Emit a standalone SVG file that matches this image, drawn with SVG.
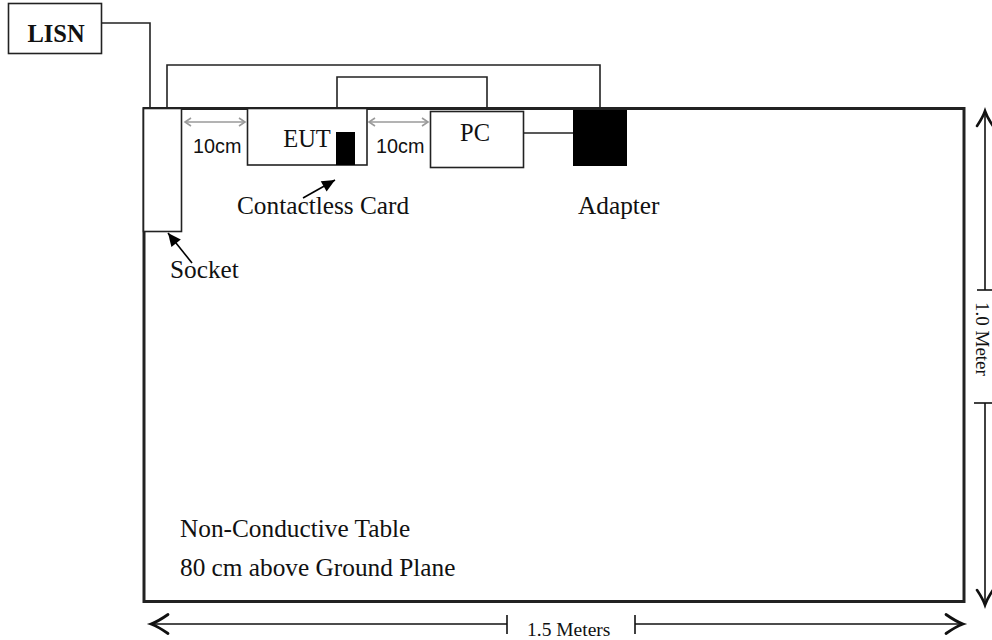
<svg xmlns="http://www.w3.org/2000/svg" width="992" height="640" viewBox="0 0 992 640">
<defs>
<marker id="chev" markerUnits="userSpaceOnUse" markerWidth="24" markerHeight="24" viewBox="-20 -12 24 24" refX="0" refY="0" orient="auto-start-reverse" overflow="visible">
<path d="M-17,-9.5 Q-7,-2.5 0,0 Q-7,2.5 -17,9.5" fill="none" stroke="#111" stroke-width="2.8" stroke-linecap="round"/>
</marker>
<marker id="chevs" markerUnits="userSpaceOnUse" markerWidth="24" markerHeight="24" viewBox="-20 -12 24 24" refX="0" refY="0" orient="auto-start-reverse" overflow="visible">
<path d="M-15,-8 Q-6,-2 0,0 Q-6,2 -15,8" fill="none" stroke="#111" stroke-width="2.6" stroke-linecap="round"/>
</marker>
<marker id="gray" markerUnits="userSpaceOnUse" markerWidth="12" markerHeight="12" viewBox="-8 -6 10 12" refX="0" refY="0" orient="auto-start-reverse" overflow="visible">
<path d="M-6,-4 L0,0 L-6,4" fill="none" stroke="#9a9a9a" stroke-width="1.6"/>
</marker>
<marker id="fill" markerUnits="userSpaceOnUse" markerWidth="16" markerHeight="16" viewBox="-14 -8 16 16" refX="0" refY="0" orient="auto" overflow="visible">
<path d="M0,0 L-13,-6 L-13,6 Z" fill="#000"/>
</marker>
</defs>
<style>
.box{fill:#fff;stroke:#222;stroke-width:1.6}
.wire{fill:none;stroke:#222;stroke-width:1.6}
.ser{font-family:"Liberation Serif","Times New Roman",serif;font-size:24.5px;fill:#111}
.lbl{font-size:25.3px}
.san{font-family:"Liberation Sans",Arial,sans-serif;font-size:19.8px;fill:#111}
.dim{font-family:"Liberation Serif","Times New Roman",serif;font-size:19.5px;fill:#111}
</style>
<g id="table">
<rect x="144" y="108.5" width="820" height="493" fill="#fff" stroke="#222" stroke-width="3"/>
<text class="ser lbl" x="180" y="537">Non-Conductive Table</text>
<text class="ser lbl" x="180" y="576">80 cm above Ground Plane</text>
</g>
<g id="connectors">
<path class="wire" d="M102,23 H150 V108"/>
<path class="wire" d="M167,108 V65 H600 V110"/>
<path class="wire" d="M337,108 V77 H487 V110"/>
<path class="wire" d="M523,133 H573"/>
<path d="M185,122 H245" fill="none" stroke="#9a9a9a" stroke-width="1.6" marker-start="url(#gray)" marker-end="url(#gray)"/>
<path d="M369,122 H428" fill="none" stroke="#9a9a9a" stroke-width="1.6" marker-start="url(#gray)" marker-end="url(#gray)"/>
<path d="M303,198 L335,180" fill="none" stroke="#000" stroke-width="1.6" marker-end="url(#fill)"/>
<path d="M192,263 L168,233" fill="none" stroke="#000" stroke-width="1.6" marker-end="url(#fill)"/>
</g>
<g id="lisn">
<rect class="box" x="8.5" y="3.5" width="93" height="50"/>
<text class="ser" x="56" y="42" text-anchor="middle" font-weight="bold">LISN</text>
</g>
<g id="socket">
<rect class="box" x="143.5" y="108.5" width="38" height="123"/>
<text class="ser lbl" x="170" y="278">Socket</text>
</g>
<g id="eut">
<rect class="box" x="247.5" y="108.5" width="119.5" height="56.5"/>
<text class="ser" x="307" y="147" text-anchor="middle">EUT</text>
</g>
<g id="card">
<rect x="336" y="132" width="19" height="33" fill="#000"/>
<text class="ser lbl" x="237" y="214">Contactless Card</text>
</g>
<g id="pc">
<rect class="box" x="430.5" y="111.5" width="93" height="56"/>
<text class="ser" x="475" y="141" text-anchor="middle">PC</text>
</g>
<g id="adapter">
<rect x="573" y="110" width="54" height="56" fill="#000"/>
<text class="ser lbl" x="578" y="214">Adapter</text>
</g>
<g id="labels10">
<text class="san" x="193" y="153">10cm</text>
<text class="san" x="376" y="153">10cm</text>
</g>
<g id="dimensions">
<path d="M507,624 H151" fill="none" stroke="#111" stroke-width="1.6" marker-end="url(#chev)"/>
<path d="M507,615 V634" fill="none" stroke="#111" stroke-width="1.6"/>
<text class="dim" x="527" y="636">1.5 Meters</text>
<path d="M635,615 V634" fill="none" stroke="#111" stroke-width="1.6"/>
<path d="M635,624 H963" fill="none" stroke="#111" stroke-width="1.6" marker-end="url(#chev)"/>
<path d="M985,290 V111" fill="none" stroke="#111" stroke-width="1.6" marker-end="url(#chevs)"/>
<path d="M977,290 H992" fill="none" stroke="#111" stroke-width="1.6"/>
<text class="dim" transform="translate(976,302) rotate(90)" style="font-size:19px">1.0 Meter</text>
<path d="M974,403 H992" fill="none" stroke="#111" stroke-width="1.6"/>
<path d="M985,403 V605" fill="none" stroke="#111" stroke-width="1.6" marker-end="url(#chevs)"/>
</g>
</svg>
